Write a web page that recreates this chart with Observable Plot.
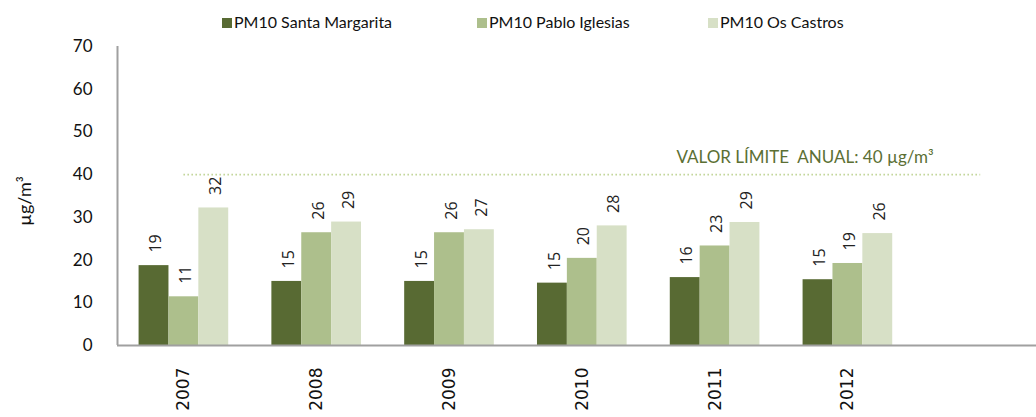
<!DOCTYPE html>
<html>
<head>
<meta charset="utf-8">
<script src="https://cdn.jsdelivr.net/npm/d3@7"></script>
<script src="https://cdn.jsdelivr.net/npm/@observablehq/plot@0.6"></script>
<style>
  html, body { margin: 0; padding: 0; background: #fff; overflow: hidden; }
  #legend { position: relative; height: 36px; width: 1036px; font-family: Lato, sans-serif; font-size: 16px; color: #111; }
  .item { position: absolute; top: 12px; height: 20px; line-height: 20px; display: flex; align-items: center; white-space: nowrap; }
  .sw { width: 10px; height: 10px; margin-right: 2px; margin-top: 2px; }
</style>
</head>
<body>
<div id="legend"></div>
<div id="chart"></div>
<script>
// ---- data ----
const years = [2007, 2008, 2009, 2010, 2011, 2012];
const seriesNames = ["PM10 Santa Margarita", "PM10 Pablo Iglesias", "PM10 Os Castros"];
const santaMargarita = [18.7, 15.0, 15.0, 14.6, 15.9, 15.4];
const pabloIglesias = [11.4, 26.4, 26.4, 20.4, 23.3, 19.2];
const osCastros = [32.2, 28.9, 27.1, 28.0, 28.8, 26.2];
const seriesColors = ["#586a33", "#adbf8c", "#d7e0c6"];
const yTicks = [0, 10, 20, 30, 40, 50, 60, 70];
const limitValue = 40;
const limitLabel = "VALOR LÍMITE  ANUAL: 40 µg/m³";
const yLabel = "µg/m³";

// ---- table ----
const seriesValues = [santaMargarita, pabloIglesias, osCastros];
const barW = 0.225; // bar width in year units
const rows = [];
seriesValues.forEach((vals, i) => {
  vals.forEach((v, j) => {
    rows.push({year: years[j], series: seriesNames[i], idx: i, value: v, label: d3.format(".0f")(v)});
  });
});

// ---- legend ----
const legend = document.getElementById("legend");
const legendLeft = [222, 477, 708];
seriesNames.forEach((name, i) => {
  const it = document.createElement("div");
  it.className = "item";
  it.style.left = legendLeft[i] + "px";
  it.innerHTML = `<span class="sw" style="background:${seriesColors[i]}"></span><span>${name}</span>`;
  legend.appendChild(it);
});

// ---- chart ----
const width = 1036;
const marginLeft = 117;
const step = 132.8;
const xDomain = [years[0] - 0.5, years[0] - 0.5 + (width - marginLeft) / step];

const chart = Plot.plot({
  width,
  height: 381,
  marginLeft,
  marginRight: 0,
  marginTop: 10,
  marginBottom: 72,
  style: {background: "#fff", overflow: "visible"},
  x: {type: "linear", domain: xDomain},
  y: {domain: [yTicks[0], yTicks[yTicks.length - 1]]},
  color: {domain: seriesNames, range: seriesColors},
  marks: [
    Plot.rectY(rows, {
      x1: d => d.year + (d.idx - 1.5) * barW,
      x2: d => d.year + (d.idx - 0.5) * barW,
      y1: 0,
      y2: "value",
      fill: "series"
    }),
    Plot.text(rows, {
      x: d => d.year + (d.idx - 1) * barW,
      y: "value",
      text: "label",
      rotate: -90,
      textAnchor: "start",
      dy: -13,
      dx: 2,
      fontFamily: "'Open Sans', sans-serif",
      fontSize: 16,
      fill: "#222"
    }),
    Plot.ruleY([limitValue], {
      x1: years[0],
      x2: years[years.length - 1] + 1,
      stroke: "#c3d69b",
      strokeWidth: 1.6,
      strokeDasharray: "1.6,2.4"
    }),
    Plot.text([limitLabel], {
      x: years[years.length - 1] + 1,
      y: limitValue,
      text: d => d,
      textAnchor: "end",
      lineAnchor: "bottom",
      dx: -47,
      dy: -12,
      fontFamily: "Lato, sans-serif",
      fontSize: 17,
      fill: "#5b6f34"
    }),
    Plot.ruleY([0], {stroke: "#a0a0a0", strokeWidth: 2}),
    Plot.ruleX([xDomain[0]], {y1: yTicks[0], y2: yTicks[yTicks.length - 1], stroke: "#a0a0a0", strokeWidth: 2}),
    Plot.axisY({
      ticks: yTicks,
      tickSize: 0,
      tickPadding: 25,
      label: null,
      fontFamily: "Lato, sans-serif",
      fontSize: 17,
      fill: "#111"
    }),
    Plot.axisX({
      ticks: years,
      tickFormat: d => String(d),
      tickRotate: -90,
      tickSize: 0,
      tickPadding: 22,
      label: null,
      fontFamily: "'DejaVu Sans', sans-serif",
      fontSize: 17,
      fill: "#111"
    }),
    Plot.text([yLabel], {
      frameAnchor: "left",
      text: d => d,
      rotate: -90,
      textAnchor: "middle",
      dx: -92,
      dy: 5,
      fontFamily: "Lato, sans-serif",
      fontSize: 18,
      fill: "#111"
    })
  ]
});
document.getElementById("chart").appendChild(chart);
</script>
</body>
</html>
